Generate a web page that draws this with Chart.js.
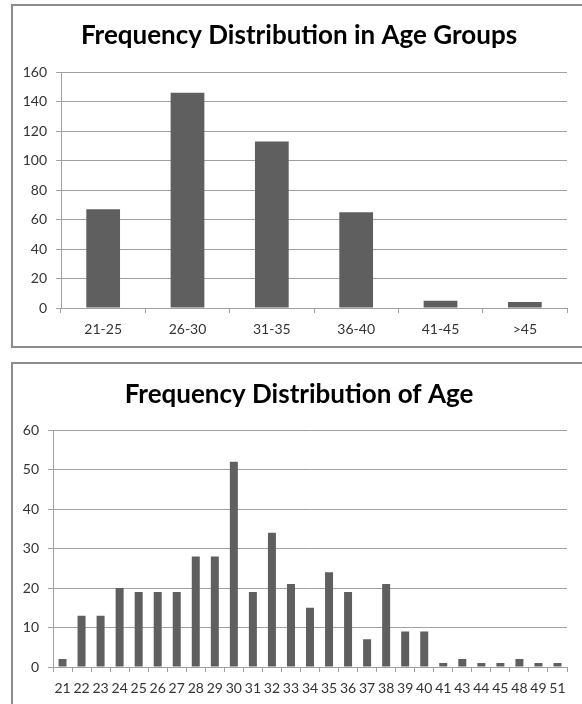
<!DOCTYPE html>
<html>
<head>
<meta charset="utf-8">
<script src="https://cdn.jsdelivr.net/npm/chart.js"></script>
<style>
  html, body { margin: 0; padding: 0; background: #fff; overflow: hidden; width: 582px; height: 704px; }
  .box { position: absolute; left: 11px; border: 2px solid #8c8c8c; background: #fff; }
  #box1 { top: 4px; }
  #box2 { top: 362px; }
  canvas { display: block; }
</style>
</head>
<body>
<div class="box" id="box1"><canvas id="groups" width="572" height="340"></canvas></div>
<div class="box" id="box2"><canvas id="ages" width="572" height="345"></canvas></div>
<script>
// ── data ────────────────────────────────────────────────────────────────────
const groupLabels = ['21-25', '26-30', '31-35', '36-40', '41-45', '>45'];
const groupCounts = [67, 146, 113, 65, 5, 4];

const ageLabels = ['21', '22', '23', '24', '25', '26', '27', '28', '29', '30', '31', '32', '33', '34',
                   '35', '36', '37', '38', '39', '40', '41', '43', '44', '45', '48', '49', '51'];
const ageCounts = [2, 13, 13, 20, 19, 19, 19, 28, 28, 52, 19, 34, 21, 15,
                   24, 19, 7, 21, 9, 9, 1, 2, 1, 1, 2, 1, 1];

const groupAxis = { max: 160, step: 20 };
const ageAxis   = { max: 60,  step: 10 };

// ── look ────────────────────────────────────────────────────────────────────
const BAR  = '#5f5f5f';
const GRID = '#a0a0a0';
const TICK = '#333333';
const FONT = 'Lato';

Chart.defaults.font.family = FONT;
Chart.defaults.devicePixelRatio = 1;

function buildHist(canvasId, labels, data, title, axis, o) {
  return new Chart(document.getElementById(canvasId), {
    type: 'bar',
    data: {
      labels,
      datasets: [{ data, backgroundColor: BAR, borderWidth: 0,
                   categoryPercentage: 1, barPercentage: o.barPct }]
    },
    options: {
      responsive: false, animation: false,
      layout: { padding: 0 },
      plugins: {
        legend: { display: false },
        tooltip: { enabled: false },
        title: {
          display: true, text: title, color: '#000',
          font: { family: FONT, size: o.titleSize, weight: 'bold', lineHeight: 1.2 },
          padding: o.titlePad
        }
      },
      scales: {
        x: {
          offset: true,
          grid: { offset: true, drawOnChartArea: false, drawTicks: true, tickLength: 5, color: GRID },
          border: { color: GRID, width: 1 },
          ticks: { color: TICK, font: { size: 14 }, padding: 8, autoSkip: false, maxRotation: 0, minRotation: 0 },
          afterFit: s => { s.height = o.xHeight; }
        },
        y: {
          min: 0, max: axis.max,
          grid: { color: GRID, tickLength: 5, lineWidth: 1 },
          border: { color: GRID, width: 1 },
          ticks: { stepSize: axis.step, color: TICK, font: { size: 14 }, padding: 9 },
          afterFit: s => { s.width = o.yWidth; }
        },
        // empty right gutter so the title stays centred on the whole box
        gutter: {
          position: 'right', min: 0, max: 1,
          grid: { display: false }, border: { display: false }, ticks: { display: false },
          afterFit: s => { s.width = 18; }
        }
      }
    }
  });
}

buildHist('groups', groupLabels, groupCounts, 'Frequency Distribution in Age Groups', groupAxis,
  { barPct: 0.4, titleSize: 26, titlePad: { top: 14, bottom: 21 }, xHeight: 38, yWidth: 48 });
buildHist('ages', ageLabels, ageCounts, 'Frequency Distribution of Age', ageAxis,
  { barPct: 0.42, titleSize: 26, titlePad: { top: 15, bottom: 20 }, xHeight: 42, yWidth: 40 });
</script>
</body>
</html>
